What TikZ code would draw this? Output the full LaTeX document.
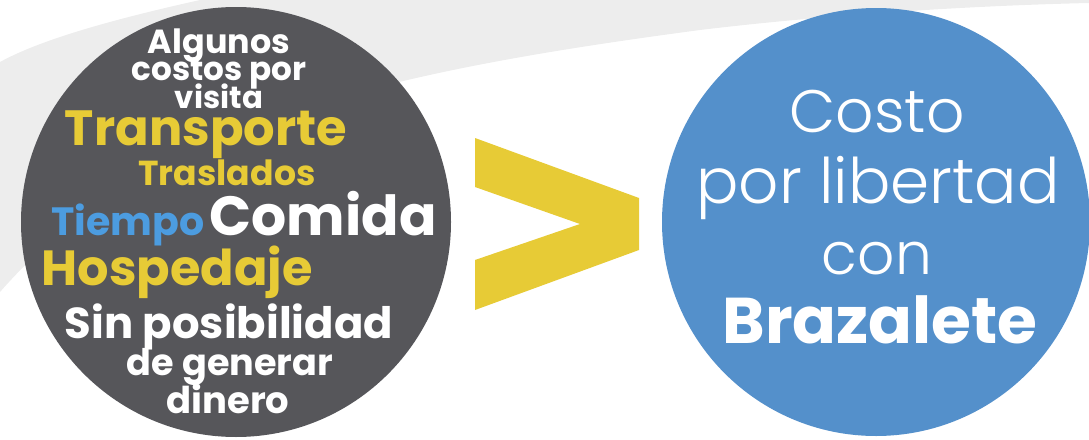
\documentclass[tikz,border=0pt]{standalone}
\usepackage{fontspec}
\setmainfont{Poppins}
\newfontfamily\lightfont{Poppins Light}
\usepackage{graphicx}
\definecolor{darkc}{RGB}{86,86,90}
\definecolor{bluec}{RGB}{84,144,203}
\definecolor{yel}{RGB}{231,203,54}
\definecolor{tblue}{RGB}{76,156,224}
\definecolor{swoosh}{RGB}{237,237,237}
\newcommand{\fw}[2]{\resizebox{#1pt}{!}{#2}}
\begin{document}
\begin{tikzpicture}[x=1pt,y=-1pt,
  txt/.style={inner sep=0pt, anchor=base, font=\bfseries},
  ltxt/.style={inner sep=0pt, anchor=base, font=\lightfont, text=white},
  disc/.style={circle, inner sep=0pt}]
\useasboundingbox (0,0) rectangle (1089,439);
\fill[swoosh] (0,292) .. controls (150,120) and (400,70) .. (700,30)
  .. controls (850,12) and (1000,5) .. (1089,3) -- (1089,0) -- (200,0)
  .. controls (110,20) and (40,40) .. (0,62) -- cycle;
\node[disc, fill=darkc, minimum size=430pt] (left) at (236,222) {};
\node[disc, fill=bluec, minimum size=428pt] (right) at (876,222) {};
\fill[yel] (475,138) -- (639,198) -- (639,250) -- (475,310) -- (475,260) -- (580,224) -- (475,187) -- cycle;
\node[txt, text=white] (t1) at (219,53) {\fw{142}{Algunos}};
\node[txt, text=white] (t2) at (219,80) {\fw{175}{costos por}};
\node[txt, text=white] (t3) at (219,108) {\fw{88}{visita}};
\node[txt, text=yel] (t4) at (206,145) {\fw{282}{Transporte}};
\node[txt, text=yel] (t5) at (227,185) {\fw{177}{Traslados}};
\node[txt, text=tblue] (t6) at (128,235) {\fw{153}{Tiempo}};
\node[txt, text=white] (t7) at (323,235) {\fw{227}{Comida}};
\node[txt, text=yel] (t8) at (177,285) {\fw{271}{Hospedaje}};
\node[txt, text=white] (t9) at (229,338) {\fw{328}{Sin posibilidad}};
\node[txt, text=white] (t10) at (230,375) {\fw{206}{de generar}};
\node[txt, text=white] (t11) at (228,413) {\fw{123}{dinero}};
\node[ltxt] (r1) at (877,132) {\fw{175}{Costo}};
\node[ltxt] (r2) at (878,203) {\fw{363}{por libertad}};
\node[ltxt] (r3) at (877,274) {\fw{110}{con}};
\node[txt, text=white] (r4) at (880,343) {\fw{315}{Brazalete}};
\end{tikzpicture}
\end{document}
